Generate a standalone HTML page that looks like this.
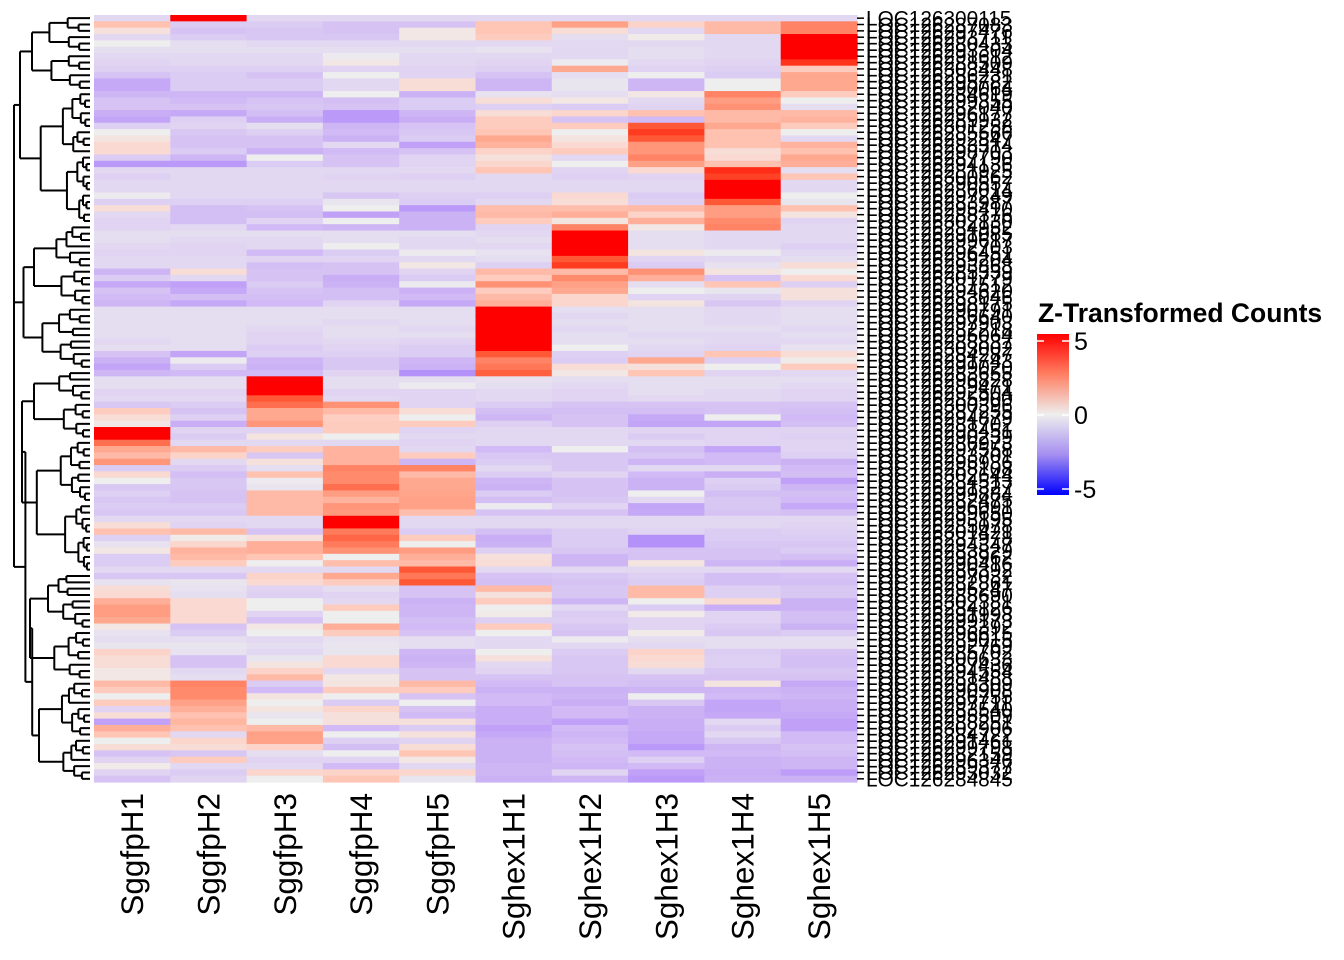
<!DOCTYPE html>
<html><head><meta charset="utf-8">
<style>
html,body{margin:0;padding:0;background:#fff;}
svg{display:block;font-family:"Liberation Sans",Arial,sans-serif;}
</style></head>
<body>
<svg id="chart" width="1344" height="960" viewBox="0 0 1344 960" xmlns="http://www.w3.org/2000/svg">
  <g id="dendro" stroke="#000" stroke-width="2" fill="none"></g>
  <g id="cells"></g>
  <g id="rowlabels"></g>
  <g id="collabels"></g>
  <g id="legend">
    <text x="1038" y="322" font-size="26.5" font-weight="bold">Z-Transformed Counts</text>
    <defs>
      <linearGradient id="lg" x1="0" y1="0" x2="0" y2="1">
        <stop offset="0" stop-color="#ff0000"/>
        <stop offset="0.25" stop-color="#ff7f62"/>
        <stop offset="0.5" stop-color="#eeeeee"/>
        <stop offset="0.75" stop-color="#a58ef0"/>
        <stop offset="1" stop-color="#0000ff"/>
      </linearGradient>
    </defs>
    <rect x="1037" y="334" width="32" height="161" fill="url(#lg)"/>
    <g id="legticks"></g>
  </g>
</svg>
<script>
const colNames = ["SggfpH1","SggfpH2","SggfpH3","SggfpH4","SggfpH5","Sghex1H1","Sghex1H2","Sghex1H3","Sghex1H4","Sghex1H5"];
const legendTicks = [5, 0, -5];
const values = [
[-0.5,5,-0.5,-0.5,-0.5,-0.5,-0.5,-0.5,-0.5,-0.5],
[1.3,-0.8,-0.8,-1,-1,1.2,2.2,0.8,1.5,3],
[0.4,-1,-0.9,-1,0.2,1.2,0.5,-0.5,1.5,3],
[-0.5,-0.8,-0.9,-0.9,0.2,1,-0.4,0.1,-0.5,5],
[0,-0.4,-0.5,-0.5,-0.5,-0.5,-0.5,-0.5,-0.5,5],
[-0.4,-0.4,-0.4,-0.4,-0.4,-0.3,-0.5,-0.4,-0.5,5],
[-0.5,-0.5,-0.5,-0.1,-0.5,-0.5,-0.5,-0.4,-0.5,5],
[-0.6,-0.5,-0.5,0.2,-0.5,-0.6,-0.1,-0.5,-0.6,4.6],
[-0.7,-0.7,-0.7,-0.6,-0.6,-0.7,2,-0.6,-0.7,1],
[-1,-0.8,-1,0,-0.6,-1,-0.4,0,-0.8,2],
[-1.6,-0.8,-0.8,-0.5,0.5,-1.3,-0.2,-1.3,0,2],
[-1.6,-0.8,-0.8,-0.5,0.5,-1.3,-0.2,-1.3,0,2],
[-1.3,-1.3,-1.3,0,-1.4,-0.3,-0.4,0.2,3,1],
[-1,-1.2,-1,-1.1,-0.8,0.5,0.2,-0.5,2.3,0],
[-1,-1,-0.9,-1,-0.8,-0.7,-0.8,-0.6,2.6,-0.4],
[-1.5,-1.6,-1.1,-2,-1.3,0.5,0.7,1.3,1.5,1.5],
[-1.7,-0.7,-1.5,-2,-1.5,1,-1,-1.2,1.5,1.7],
[-0.7,-0.6,-0.4,-1.3,-1,1,1,4,2,1],
[0,-0.9,-0.7,-1.2,-0.9,1.2,0,4.5,1.3,0],
[0.3,-1,-1,-1.4,-0.8,2,0.3,4,1.3,-0.5],
[0.6,-1,-1,-0.5,-1.8,1.7,0.6,2.5,1.3,1.7],
[0.6,-0.8,-1.4,-1.2,-1,0.8,1,2.5,0.5,1.3],
[-0.8,-1.3,0,-1,-0.6,0.4,-0.5,3,0.6,2],
[-2,-2,-0.8,-1,-0.6,0.7,0,2.2,1.3,1.8],
[-0.5,-0.5,-0.5,-0.5,-0.5,1.2,-0.6,0.6,4.7,-0.4],
[-0.7,-0.5,-0.5,-0.6,-0.7,-0.5,-0.7,-0.6,4.4,1.2],
[-0.5,-0.5,-0.5,-0.5,-0.5,-0.5,-0.5,-0.5,5,-0.5],
[-0.5,-0.5,-0.5,-0.5,-0.5,-0.5,-0.5,-0.5,5,-0.5],
[-0.1,-0.5,-0.5,-0.9,-0.7,-0.7,0.6,-0.8,5,0],
[-0.7,-0.7,-0.7,-0.2,-0.8,-0.5,0.5,-0.7,4,-0.2],
[0.5,-1.1,-1,0,-2,1.4,1.4,1.5,2.3,1.3],
[-0.5,-1.1,-1.1,-1.8,-1.4,1.5,1.8,0.8,2.3,0.3],
[-0.6,-1.1,-0.6,0,-1.4,1,0.3,1.8,2.8,-0.6],
[-0.6,-0.5,-1.2,-1.3,-1.4,-0.6,3,0.2,3,-0.5],
[-0.4,-0.4,-0.4,-0.4,-0.4,-0.5,5,-0.4,-0.5,-0.5],
[-0.4,-0.5,-0.5,-0.4,-0.5,-0.4,5,-0.4,-0.5,-0.5],
[-0.5,-0.6,-0.5,0,-0.5,-0.5,5,-0.4,-0.5,-0.7],
[-0.6,-0.6,-1.2,-0.8,-0.1,-0.3,5,0.3,-0.1,-0.5],
[-0.5,-0.5,-0.6,-0.6,-0.5,-0.4,4,-0.6,-0.5,-0.4],
[-0.5,-0.5,-1.1,-1,0.2,-0.7,4.5,-0.8,-0.3,0.5],
[-1.3,0.5,-1,-1,-0.6,1.5,1.5,2.6,0.3,0],
[-0.8,-0.5,-1,-1.5,-0.8,1,2.8,1.8,-1,0.6],
[-1.6,-1.8,-0.8,-1.4,-0.1,2.6,2.2,-0.4,1.2,-0.7],
[-1,-1.6,-1,-1.1,-1.4,1,2,0,-0.2,0.4],
[-1.2,-1.1,-1.1,-1.1,-1.2,1.5,0.7,-0.6,-0.6,0.4],
[-1.3,-1.6,-1.2,-0.6,-1.6,1.8,0.7,0.3,-0.9,-0.6],
[-0.4,-0.4,-0.4,-0.4,-0.4,5,-0.4,-0.4,-0.5,-0.4],
[-0.4,-0.4,-0.4,-0.4,-0.4,5,-0.5,-0.4,-0.5,-0.4],
[-0.4,-0.4,-0.4,-0.5,-0.4,5,-0.4,-0.4,-0.5,-0.4],
[-0.4,-0.4,-0.5,-0.4,-0.5,5,-0.5,-0.4,-0.4,-0.5],
[-0.4,-0.4,-0.6,-0.4,-0.4,5,-0.4,-0.5,-0.5,-0.4],
[-0.5,-0.4,-0.6,-0.5,-0.6,5,-0.4,-0.4,-0.5,-0.5],
[-0.4,-0.4,-0.8,-0.6,-0.8,5,0,-0.5,-0.6,-0.3],
[-1,-1.7,-0.7,-0.7,-0.8,4,-0.7,-0.6,1.2,0.5],
[-1.4,-0.1,-1.3,-0.9,-1.3,3,-0.8,2,-0.7,0.1],
[-1.7,-0.8,-1.4,-0.9,-1.4,3.3,0.5,0.4,0,1],
[-1.3,-1.2,-1.2,-0.6,-2.2,3.8,0.2,1.2,-0.6,-0.5],
[-0.4,-0.4,5,-0.4,-0.4,-0.3,-0.4,-0.4,-0.4,-0.4],
[-0.4,-0.4,5,-0.4,-0.1,-0.4,-0.5,-0.4,-0.4,-0.5],
[-0.6,-0.6,5,-0.6,-0.6,-0.5,-0.6,-0.4,-0.5,-0.6],
[-0.5,-0.5,4,-0.5,-0.6,-0.5,-0.6,-0.5,-0.5,-0.6],
[-0.9,-0.8,3.5,2.6,-0.6,-0.8,-1,-1,-1,-1],
[1,-1,2,1.5,0.5,-1.1,-1.1,-1.1,-1,-1.1],
[0.5,-0.7,2,0.9,0,-1.3,-1,-1.6,0,-1.2],
[0.2,-1.5,2.5,1,1,-0.7,-1,-1.7,-1.7,-1.1],
[5,-0.6,-0.6,1,-0.6,-0.5,-0.5,-0.6,-0.6,-0.6],
[5,-0.8,0.3,0,-0.5,-0.5,-0.5,-0.8,-0.6,-0.7],
[3.5,-0.5,-0.5,-0.5,-0.6,-0.5,-0.5,-0.5,-0.6,-0.6],
[2,1.5,1,1.7,-0.5,-1.2,0,-1.1,-1.7,-0.6],
[1.5,0.8,-0.9,1.7,1,-0.9,-0.9,-0.9,-1.2,-0.7],
[2.5,-0.5,0.4,1.7,-1.3,-0.8,-0.9,-1.3,-1.2,-1.4],
[-0.8,-0.8,-0.4,3,3,-0.5,-0.9,-0.5,-0.5,-1.2],
[0.6,-1.1,1.3,2.8,1.5,-0.8,-0.6,-1.2,-1.5,-1.1],
[0,-0.9,-0.1,2.8,2,-1.3,-1,-1.4,-0.7,-1.8],
[-0.9,-0.9,-0.2,3.5,2,-1.4,-1,-1.4,-0.8,-1.3],
[-0.7,-1,1.5,2.3,2.1,-0.8,-1,0,-1.1,-1.1],
[-0.9,-1,1.5,1.7,2.2,-1.1,-0.9,-0.5,-0.9,-1.2],
[-0.8,-0.8,1.5,2.5,2.2,-0.1,-0.6,-1.7,-0.9,-1.6],
[-0.9,-0.9,1.5,2.4,1.4,-1,-1,-1.6,-1,-1.1],
[-0.5,-0.5,-0.5,5,-0.5,-0.5,-0.5,-0.5,-0.5,-0.5],
[0.5,-0.6,-0.5,5,-0.5,-0.5,-0.5,-0.5,-0.5,-0.6],
[1.3,1.5,-1,3.2,-0.8,-1.1,-0.8,-0.6,-0.8,-0.7],
[-0.7,0.1,0.4,3.7,1,-1.5,-0.8,-2.2,-0.8,-0.8],
[-0.3,0.7,1.8,3.2,0,-1.4,-0.8,-2.2,-0.9,-0.9],
[0.2,1.7,1.8,2.6,2.3,-0.7,-0.9,-1,-1,-0.8],
[-0.8,1.5,1.2,0,1.8,0.4,-1.3,-1,-1,-1.1],
[-0.8,1,0,1.4,1.5,0.5,-1.3,0.3,-1.3,-1.5],
[-0.5,-0.5,-0.5,-0.5,4,-0.5,-0.5,-0.5,-0.5,-0.5],
[-0.9,-0.9,0.8,2,3.3,-1,-0.9,-0.7,-1.1,-1],
[-0.3,-0.2,0.6,1,4,-1.1,-1,-0.8,-1.1,-1.1],
[0.5,-0.3,-0.6,-0.4,-1,1.5,-0.9,1.5,-0.7,-0.9],
[0.6,-0.4,-0.7,-0.6,-1,0.4,-0.9,1.5,-0.7,-0.9],
[1.8,0.6,0,-0.5,-1.4,1,-1.3,0,0.6,-1.4],
[2.3,0.6,0,1,-1.3,0,-0.5,-0.8,-1.5,-1.4],
[2.3,0.6,-0.6,0,-1.3,0.1,-0.8,0.1,-0.6,-1.1],
[2,0.6,-1,0,-1.1,-0.7,-0.7,-0.6,-0.6,-1.1],
[0.2,-1,0.2,1.8,-1.2,1,-0.9,-0.6,-0.8,-1.4],
[-0.3,-0.8,0,1,-1,0,-1,0.1,-0.9,-0.8],
[-0.4,-0.4,-0.5,-0.3,-0.4,-0.5,-0.1,-0.4,-0.4,-0.4],
[-0.2,-0.2,-0.4,-0.2,-0.4,-0.5,-0.5,-0.5,-0.4,-0.4],
[0.8,-0.3,-0.5,-0.2,-1.3,0,-0.8,0.8,-0.8,-1],
[0.5,-1,-0.2,0.6,-1.4,0.4,-0.9,0.6,-0.7,-1.1],
[0.5,-1,0.3,0.6,-1.3,-0.5,-0.9,0.5,-0.7,-1.1],
[0.2,-0.5,0.8,-0.5,-1,-0.6,-0.9,-0.5,-0.9,-0.9],
[0.2,-0.4,1.5,0.2,-1,-1,-1,-1,-1,-1],
[1.5,3,-0.8,0.3,1.5,-1.2,-1,-1.1,0.3,-1.6],
[1,2.8,-1.2,1,1,-1.4,-1.4,-1.3,-1.3,-1.4],
[0,2.8,0.3,0,-1,-1.2,-1.3,0,-1.2,-1.3],
[1,2.2,0,-0.8,0,-1.2,-1.5,-0.9,-1.7,-1.5],
[-0.6,1.8,0.3,0.7,-1,-1.5,-1.2,-1.4,-1.7,-1.5],
[0.5,1.3,-0.2,0.4,-1.2,-1.5,-1.2,-1.4,-1.6,-1.6],
[-1.8,1.6,0,0.4,0.4,-1.5,-1.8,-1.5,-0.5,-1.8],
[1.8,1.3,1.5,-1.2,-0.8,-1.8,-1.2,-1.5,-0.8,-1.8],
[1.2,-0.5,2.2,0,0.4,-1.6,-1.3,-1.6,-0.5,-1.2],
[0,0.7,2.2,-0.7,-0.6,-1.4,-1.2,-1.6,-0.9,-1.2],
[0.5,0.5,0.8,-1.1,0.5,-1.4,-1,-2,-1.3,-1],
[-1,-0.9,-0.4,0,1.2,-1.4,-1.1,-1.2,-1.2,-1.1],
[-0.6,1,-0.6,-0.6,0.2,-1.4,-1.2,-0.7,-1.4,-1.3],
[0.1,-0.5,-0.5,-1.2,-0.5,-1.3,-1.3,-1.2,-1.4,-1.3],
[-0.6,-0.8,0.7,0.8,0.7,-1.3,-0.6,-1.8,-1.5,-1.9],
[-1,-0.6,0,1.2,-0.2,-1.4,-1.3,-2,-1.4,-1.4]
];
const labelIds = ["126300115","126287083","126297476","126293711","126280433","126293304","126291612","126288509","126303448","126286231",
"126295782","126290064","126284619","126299355","126282040","126296177","126289932","126301258","126285566","126292847",
"126283314","126298703","126287790","126294136","126281925","126300862","126290557","126286014","126297249","126283987",
"126295410","126288376","126302130","126284952","126291085","126299617","126282703","126296451","126289204","126293868",
"126285339","126301779","126287512","126294620","126283046","126298175","126290791","126286640","126297903","126282218",
"126295064","126288837","126303002","126284287","126291743","126299020","126283655","126296828","126289471","126292504",
"126285900","126300396","126287255","126294879","126281702","126298451","126290239","126286973","126297558","126283701",
"126295936","126288108","126302644","126284513","126291327","126299884","126282475","126296091","126289650","126293195",
"126285078","126301421","126287978","126294347","126283829","126298962","126290416","126286392","126297032","126282861",
"126295247","126288690","126302381","126284126","126291998","126299173","126283392","126296615","126289015","126292769",
"126285702","126300633","126287436","126294554","126281488","126298309","126290908","126286755","126297711","126283540",
"126295509","126288251","126302906","126284722","126291461","126299798","126282159","126296346","126289377","126293032",
"126284845"];

const X0 = 94, X1 = 857, Y0 = 15, Y1 = 782;
const nR = values.length, nC = colNames.length;
const cw = (X1 - X0) / nC, rh = (Y1 - Y0) / nR;
const xPos = c => X0 + c * cw;
const yPos = r => Y0 + r * rh;
const NS = "http://www.w3.org/2000/svg";

function srgb2lin(c){c/=255;return c<=0.04045?c/12.92:Math.pow((c+0.055)/1.055,2.4);}
function lin2srgb(c){c=c<=0.0031308?12.92*c:1.055*Math.pow(c,1/2.4)-0.055;return Math.max(0,Math.min(255,Math.round(c*255)));}
function toLab(rgb){
  const r=srgb2lin(rgb[0]),g=srgb2lin(rgb[1]),b=srgb2lin(rgb[2]);
  let x=(r*0.4124+g*0.3576+b*0.1805)/0.95047,y=(r*0.2126+g*0.7152+b*0.0722),z=(r*0.0193+g*0.1192+b*0.9505)/1.08883;
  const f=t=>t>0.008856?Math.cbrt(t):7.787*t+16/116;
  x=f(x);y=f(y);z=f(z);
  return [116*y-16,500*(x-y),200*(y-z)];
}
function fromLab(l){
  let y=(l[0]+16)/116,x=l[1]/500+y,z=y-l[2]/200;
  const fi=t=>t*t*t>0.008856?t*t*t:(t-16/116)/7.787;
  x=fi(x)*0.95047;y=fi(y);z=fi(z)*1.08883;
  const r=x*3.2406+y*-1.5372+z*-0.4986,g=x*-0.9689+y*1.8758+z*0.0415,b=x*0.0557+y*-0.2040+z*1.0570;
  return "rgb("+lin2srgb(r)+","+lin2srgb(g)+","+lin2srgb(b)+")";
}
const LB=toLab([0,0,255]),LM=toLab([238,238,238]),LR=toLab([255,0,0]);
function color(v){
  v=Math.max(-5,Math.min(5,v));
  const t=Math.abs(v)/5, e=v<0?LB:LR;
  return fromLab([LM[0]+(e[0]-LM[0])*t,LM[1]+(e[1]-LM[1])*t,LM[2]+(e[2]-LM[2])*t]);
}

const cells=document.getElementById("cells");
for(let r=0;r<nR;r++){
  for(let c=0;c<nC;c++){
    const el=document.createElementNS(NS,"rect");
    
    
    el.setAttribute("x",xPos(c));el.setAttribute("y",yPos(r));
    el.setAttribute("width",cw+0.6);el.setAttribute("height",rh+0.6);
    el.setAttribute("fill",color(values[r][c]));
    cells.appendChild(el);
  }
}

const rl=document.getElementById("rowlabels");
for(let r=0;r<nR;r++){
  const yc=yPos(r)+rh/2;
  const tk=document.createElementNS(NS,"line");
  
  
  tk.setAttribute("x1",X1);tk.setAttribute("x2",X1+7);tk.setAttribute("y1",yc);tk.setAttribute("y2",yc);
  tk.setAttribute("stroke","#000");tk.setAttribute("stroke-width","1.5");
  rl.appendChild(tk);
  const t=document.createElementNS(NS,"text");
  
  
  t.setAttribute("x",866);t.setAttribute("y",yc+7.5);t.setAttribute("font-size","20.8");
  t.textContent="LOC"+labelIds[r];
  rl.appendChild(t);
}

const cl=document.getElementById("collabels");
colNames.forEach((n,c)=>{
  const t=document.createElementNS(NS,"text");
  
  
  const x=xPos(c)+cw/2+11, y=793;
  t.setAttribute("x",x);t.setAttribute("y",y);
  t.setAttribute("transform","rotate(-90 "+x+" "+y+")");
  t.setAttribute("text-anchor","end");t.setAttribute("font-size","31.5");
  t.textContent=n;
  cl.appendChild(t);
});

const lt=document.getElementById("legticks");
const legY=v=>415-v*14.8;
legendTicks.forEach(v=>{
  const y=legY(v);
  [[1037,1044],[1062,1069]].forEach(p=>{
    const l=document.createElementNS(NS,"line");
    
    
    l.setAttribute("x1",p[0]);l.setAttribute("x2",p[1]);l.setAttribute("y1",y);l.setAttribute("y2",y);
    l.setAttribute("stroke","#fff");l.setAttribute("stroke-width","1.5");
    lt.appendChild(l);
  });
  const t=document.createElementNS(NS,"text");
  
  
  t.setAttribute("x",1074);t.setAttribute("y",y+9);t.setAttribute("font-size","25");
  t.textContent=String(v);
  lt.appendChild(t);
});

const dg=document.getElementById("dendro");
const LEAFX=90;
function seg(x1,y1,x2,y2){
  const l=document.createElementNS(NS,"line");
  
  
  l.setAttribute("x1",x1);l.setAttribute("y1",y1);l.setAttribute("x2",x2);l.setAttribute("y2",y2);
  dg.appendChild(l);
}
const topSplits={"0-120":[55,76],"0-55":[32,70],"56-120":[87,68],"0-32":[11,58],"33-55":[45,56],"56-87":[66,56],"88-120":[104,60]};
function build(lo,hi,h){
  if(lo===hi) return {y:yPos(lo)+rh/2,x:LEAFX};
  const key=lo+"-"+hi;
  let mid,hc;
  if(topSplits[key]){mid=topSplits[key][0];hc=topSplits[key][1];}
  else{
    const n=hi-lo+1;
    mid=lo+Math.floor(n/2)-1+((lo+hi)%3===0&&n>3?1:0);
    hc=h*(0.55+0.25*(((lo*7+hi*3)%5)/5));
  }
  const x=LEAFX-h;
  const a=build(lo,mid,hc), b=build(mid+1,hi,hc*(0.85+0.1*((lo+hi)%2)));
  seg(x,a.y,x,b.y);seg(x,a.y,a.x,a.y);seg(x,b.y,b.x,b.y);
  return {y:(a.y+b.y)/2,x:x};
}
build(0,nR-1,76);
</script>
</body></html>
